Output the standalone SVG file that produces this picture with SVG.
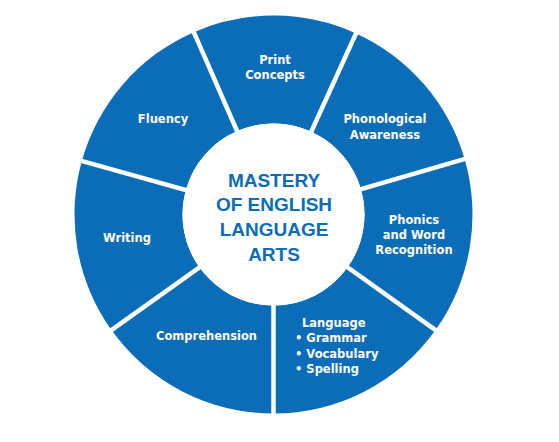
<svg xmlns="http://www.w3.org/2000/svg" width="559" height="442" viewBox="0 0 559 442">
<style>
.sec{fill:#0b6db7}
.lbl{font-family:"DejaVu Sans","Liberation Sans",sans-serif;font-weight:bold;font-size:11.5px;fill:#ffffff;text-anchor:middle}
.lst{font-family:"DejaVu Sans","Liberation Sans",sans-serif;font-weight:bold;font-size:11.5px;fill:#ffffff}
.ttl{font-family:"Liberation Sans",Arial,sans-serif;font-weight:bold;font-size:19px;fill:#0b6db7;text-anchor:middle}
.div{stroke:#ffffff;stroke-width:4.5;stroke-linecap:square}
</style>
<rect width="559" height="442" fill="#ffffff"/>
<g id="print-concepts">
<path class="sec" d="M193.84 32.14 A199 199 0 0 1 356.03 33.41 L311.24 131.69 A91 91 0 0 0 237.07 131.11 Z"/>
<text class="lbl" x="275" y="64.3">Print</text>
<text class="lbl" x="275" y="79.3">Concepts</text>
</g>
<g id="phonological-awareness">
<path class="sec" d="M356.03 33.41 A199 199 0 0 1 464.60 158.98 L360.89 189.11 A91 91 0 0 0 311.24 131.69 Z"/>
<text class="lbl" x="385" y="123.3">Phonological</text>
<text class="lbl" x="385" y="139">Awareness</text>
</g>
<g id="phonics">
<path class="sec" d="M464.60 158.98 A199 199 0 0 1 435.51 330.06 L347.58 267.34 A91 91 0 0 0 360.89 189.11 Z"/>
<text class="lbl" x="414" y="224.3">Phonics</text>
<text class="lbl" x="414" y="239.3">and Word</text>
<text class="lbl" x="414" y="254.3">Recognition</text>
</g>
<g id="language">
<path class="sec" d="M435.51 330.06 A199 199 0 0 1 273.5 413.5 L273.5 305.5 A91 91 0 0 0 347.58 267.34 Z"/>
<text class="lst" x="302" y="326.7">Language</text>
<text class="lst" x="295" y="342.3">• Grammar</text>
<text class="lst" x="295" y="357.7">• Vocabulary</text>
<text class="lst" x="295" y="372.7">• Spelling</text>
</g>
<g id="comprehension">
<path class="sec" d="M273.5 413.5 A199 199 0 0 1 111.49 330.06 L199.42 267.34 A91 91 0 0 0 273.5 305.5 Z"/>
<text class="lbl" x="206.5" y="339.5">Comprehension</text>
</g>
<g id="writing">
<path class="sec" d="M111.49 330.06 A199 199 0 0 1 81.82 160.99 L185.85 190.03 A91 91 0 0 0 199.42 267.34 Z"/>
<text class="lbl" x="127" y="242">Writing</text>
</g>
<g id="fluency">
<path class="sec" d="M81.82 160.99 A199 199 0 0 1 193.84 32.14 L237.07 131.11 A91 91 0 0 0 185.85 190.03 Z"/>
<text class="lbl" x="163" y="123.3">Fluency</text>
</g>
<g id="connectors">
<line class="div" x1="237.07" y1="131.11" x2="193.84" y2="32.14"/>
<line class="div" x1="311.24" y1="131.69" x2="356.03" y2="33.41"/>
<line class="div" x1="360.89" y1="189.11" x2="464.60" y2="158.98"/>
<line class="div" x1="347.58" y1="267.34" x2="435.51" y2="330.06"/>
<line class="div" x1="273.5" y1="305.5" x2="273.5" y2="413.5"/>
<line class="div" x1="199.42" y1="267.34" x2="111.49" y2="330.06"/>
<line class="div" x1="185.85" y1="190.03" x2="81.82" y2="160.99"/>
</g>
<g id="center">
<circle cx="273.5" cy="214.5" r="91" fill="#ffffff"/>
<text class="ttl" x="274" y="186.7">MASTERY</text>
<text class="ttl" x="274" y="211.3">OF ENGLISH</text>
<text class="ttl" x="274" y="236">LANGUAGE</text>
<text class="ttl" x="274" y="260.7">ARTS</text>
</g>
</svg>
